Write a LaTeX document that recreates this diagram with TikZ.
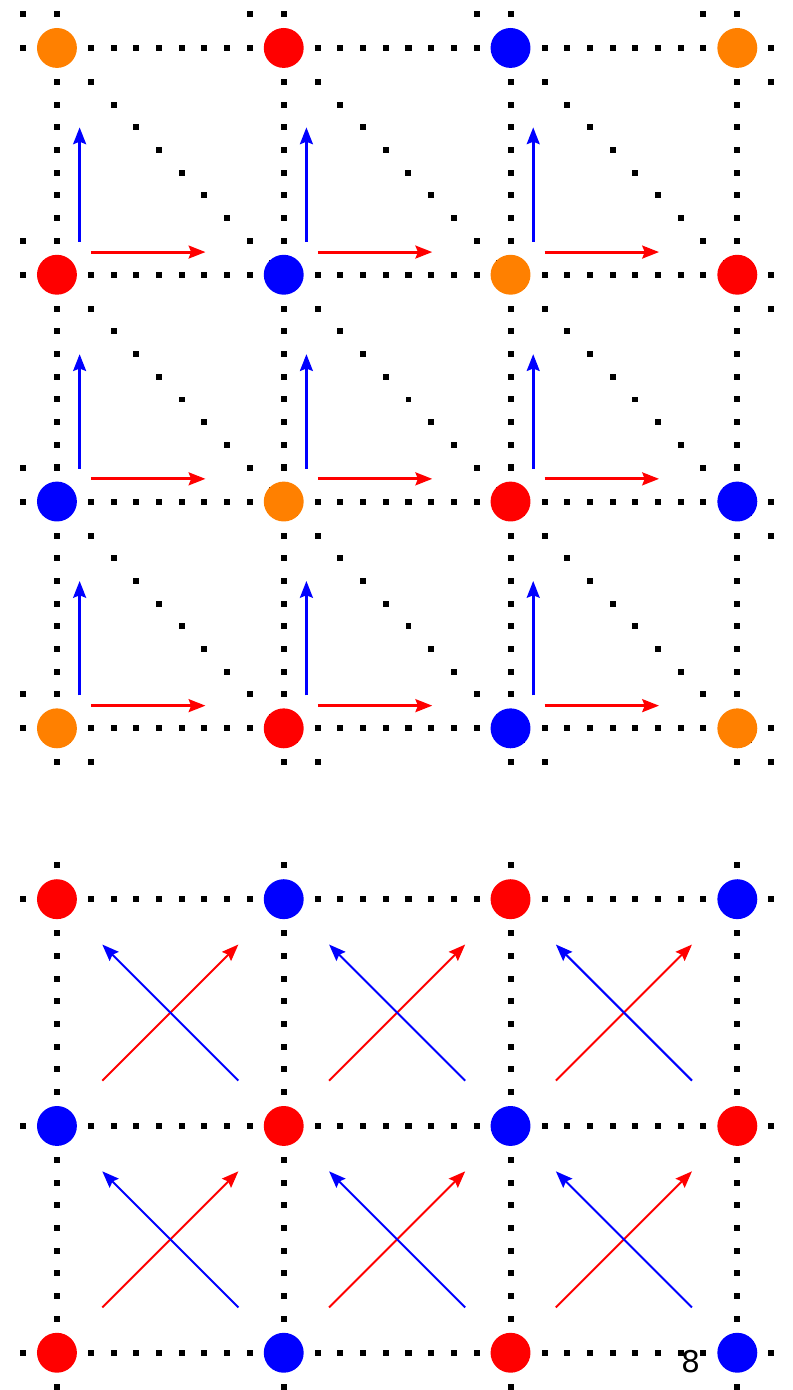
\documentclass[tikz,border=0pt]{standalone}
\usepackage{fontspec}
\setsansfont{DejaVu Sans}
\usepackage{tikz}
\usetikzlibrary{arrows.meta, calc}
\definecolor{sorange}{HTML}{FF8000}
\definecolor{sred}{HTML}{FF0000}
\definecolor{sblue}{HTML}{0000FF}
\tikzset{
  >=Stealth,
  site/.style={circle, fill=#1, draw=none, minimum size=0.352cm, inner sep=0pt},
  site/.default=sred,
  lat/.style={line width=1.5pt, line cap=rect, dash pattern=on 0.01pt off 5.68055pt},
  latdot/.style={fill=black},
  vec/.style={-{Stealth[length=4.2pt,width=3.2pt,inset=0.6pt]}, line width=0.75pt, draw=#1},
  xvec/.style={-{Stealth[length=4.2pt,width=3.2pt,inset=0.6pt]}, line width=0.5pt, draw=#1}
}

\begin{document}
\begin{tikzpicture}[x=2cm, y=2cm]
  \useasboundingbox (-0.2511,-2.9175) rectangle (3.2423,3.2115);

  % triangular lattice
  \foreach \k in {0,...,3} {
    \draw[lat] (-0.15,\k) -- (3.153,\k);
    \draw[lat] (\k,-0.15) -- (\k,3.153);
  }
  \foreach \c in {0,...,6} {
    \pgfmathsetmacro\xa{max(-0.15,\c-3.15)}
    \pgfmathsetmacro\xb{min(3.15,\c+0.15)}
    \pgfmathtruncatemacro\n{round((\xb-\xa)*10)}
    \foreach \m in {0,...,\n}
      \fill[latdot] ({\xa+0.1*\m},{\c-\xa-0.1*\m}) +(-0.75pt,-0.75pt) rectangle +(0.75pt,0.75pt);
  }
  \foreach \i in {0,...,3}
    \foreach \j in {0,...,3} {
      \pgfmathsetmacro\col{{"sorange","sred","sblue"}[int(mod(\i+3-\j,3))]}
      \node[site=\col] (t-\i-\j) at (\i,\j) {};
    }
  \foreach \i in {0,1,2}
    \foreach \j in {0,1,2} {
      \draw[vec=sblue] ([shift={(0.1,0.145)}]t-\i-\j.center) -- ([shift={(0.1,0.65)}]t-\i-\j.center);
      \draw[vec=sred] ([shift={(0.15,0.1)}]t-\i-\j.center) -- ([shift={(0.655,0.1)}]t-\i-\j.center);
    }

  % square lattice
  \begin{scope}[yshift=-5.5066cm]
    \foreach \k in {0,1,2}
      \draw[lat] (-0.15,\k) -- (3.153,\k);
    \foreach \k in {0,...,3}
      \draw[lat] (\k,-0.15) -- (\k,2.153);
    \foreach \i in {0,...,3}
      \foreach \j in {0,1,2} {
        \pgfmathsetmacro\col{{"sred","sblue"}[int(mod(\i+2-\j,2))]}
        \node[site=\col] (b-\i-\j) at (\i,\j) {};
      }
    \foreach \i in {0,1,2}
      \foreach \j in {0,1} {
        \draw[xvec=sred] ([shift={(0.2,0.2)}]b-\i-\j.center) -- ([shift={(0.8,0.8)}]b-\i-\j.center);
        \draw[xvec=sblue] ([shift={(0.8,0.2)}]b-\i-\j.center) -- ([shift={(0.2,0.8)}]b-\i-\j.center);
      }
    \node[font=\sffamily\fontsize{7.5}{9}\selectfont, inner sep=0pt] (pnum) at (2.797,-0.04) {8};
  \end{scope}
\end{tikzpicture}
\end{document}
